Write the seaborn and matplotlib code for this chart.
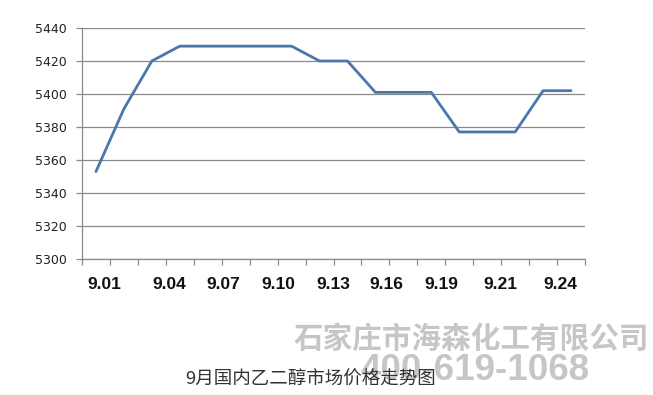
import matplotlib
matplotlib.use("Agg")
import matplotlib.pyplot as plt
import seaborn as sns
import pandas as pd
import numpy as np

# ---- data ----
prices = [5353, 5391, 5420, 5429, 5429, 5429, 5429, 5429, 5420, 5420,
          5401, 5401, 5401, 5377, 5377, 5377, 5402, 5402]
date_labels = ["9.01", "9.04", "9.07", "9.10", "9.13", "9.16", "9.19", "9.21", "9.24"]
date_label_pos = [0.29, 2.61, 4.55, 6.51, 8.48, 10.38, 12.35, 14.46, 16.6]
y_ticks = [5300, 5320, 5340, 5360, 5380, 5400, 5420, 5440]
title = "9月国内乙二醇市场价格走势图"
watermark1 = "石家庄市海森化工有限公司"
watermark2 = "400-619-1068"

df = pd.DataFrame({"idx": np.arange(len(prices)), "price": prices})

sns.set_theme(style="white")
plt.rcParams['font.family'] = ['DejaVu Sans', 'Noto Sans CJK SC']

fig = plt.figure(figsize=(6.53, 3.95), dpi=100)
ax = fig.add_axes([82/653, 1-259/395, 503/653, 231/395])

grid_c = "#8a8a8a"
for v in y_ticks:
    ax.axhline(v, color=grid_c, lw=0.9, zorder=1)

sns.lineplot(data=df, x="idx", y="price", ax=ax, color="#4a78ac", lw=2.0,
             zorder=3)

ax.set_xlim(-0.5, len(prices) - 0.5)
ax.set_ylim(5300, 5440)
ax.set_xlabel("")
ax.set_ylabel("")

for s in ["top", "right"]:
    ax.spines[s].set_visible(False)
for s in ["left", "bottom"]:
    ax.spines[s].set_color(grid_c)
    ax.spines[s].set_linewidth(0.9)

ax.set_yticks(y_ticks)
ax.set_yticklabels([str(v) for v in y_ticks], fontsize=9, color="#222222",
                   family="DejaVu Sans")
ax.tick_params(axis="y", which="major", direction="out", length=4, width=0.9,
               color=grid_c, pad=7, left=True)

ax.set_xticks(np.arange(-0.5, len(prices), 1.0))
ax.set_xticklabels([])
ax.tick_params(axis="x", which="major", direction="out", length=4, width=0.9,
               color=grid_c, bottom=True)
ax.set_xticks(date_label_pos, minor=True)
ax.set_xticklabels(date_labels, minor=True, fontsize=12.5, fontweight="bold",
                   family="Liberation Sans", color="#111111")
ax.tick_params(axis="x", which="minor", length=0, pad=13)

fig.text(471/653, 1-339/395, watermark1, ha="center", va="center",
         fontsize=21.3, fontweight="bold", color="#c6c6c6",
         family=["Noto Sans CJK SC"], zorder=0)
fig.text(475/653, 1-370/395, watermark2, ha="center", va="center",
         fontsize=26.5, fontweight="bold", color="#c6c6c6",
         family=["Liberation Sans"], zorder=0)
fig.text(311/653, 1-380/395, title, ha="center", va="center",
         fontsize=13.3, color="#333333",
         family=["Noto Sans CJK SC", "DejaVu Sans"], zorder=5)

fig.savefig("out.png", dpi=100)
